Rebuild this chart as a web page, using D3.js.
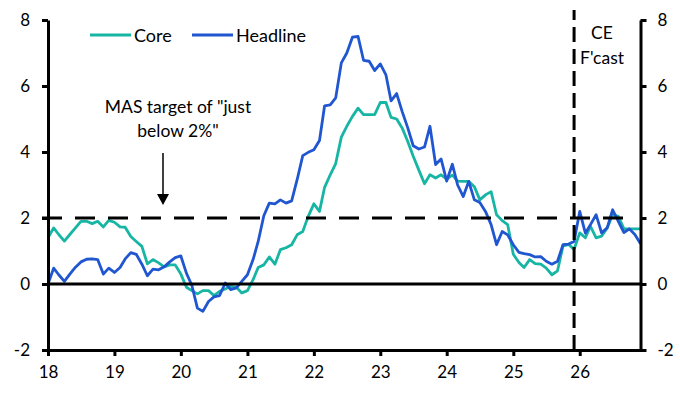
<!DOCTYPE html>
<html>
<head>
<meta charset="utf-8">
<script src="https://cdn.jsdelivr.net/npm/d3@7"></script>
<style>
  body { margin: 0; background: #fff; }
  svg text { font-family: Lato, "Noto Sans", sans-serif; fill: #000; }
</style>
</head>
<body>
<script>
// monthly, Jan 2018 - Dec 2026 (% y/y)
var core = [
  1.4, 1.7, 1.5, 1.3, 1.5, 1.7, 1.9, 1.9, 1.83, 1.9, 1.73, 1.93,
  1.87, 1.73, 1.72, 1.44, 1.29, 1.14, 0.61, 0.74, 0.64, 0.52, 0.58, 0.58,
  0.3, -0.1, -0.2, -0.3, -0.2, -0.2, -0.35, -0.22, -0.15, -0.07, -0.1, -0.27,
  -0.2, 0.13, 0.5, 0.58, 0.82, 0.6, 1.04, 1.1, 1.19, 1.49, 1.59, 2.05,
  2.43, 2.2, 2.93, 3.31, 3.65, 4.45, 4.78, 5.08, 5.33, 5.13, 5.13, 5.13,
  5.5, 5.5, 5.05, 5.0, 4.73, 4.32, 3.87, 3.45, 3.04, 3.31, 3.21, 3.31,
  3.18, 3.3, 3.12, 3.11, 3.11, 2.95, 2.55, 2.7, 2.8, 2.1, 1.92, 1.8,
  0.9, 0.65, 0.5, 0.74, 0.62, 0.6, 0.48, 0.28, 0.4, 1.15, 1.2, 1.05,
  1.55, 1.4, 1.75, 1.4, 1.45, 1.7, 2.1, 2.05, 1.67, 1.67, 1.67, 1.67
]
var headline = [
  0.0, 0.48, 0.28, 0.08, 0.3, 0.51, 0.67, 0.75, 0.76, 0.74, 0.3, 0.48,
  0.35, 0.5, 0.76, 0.95, 0.9, 0.6, 0.25, 0.45, 0.43, 0.52, 0.67, 0.8,
  0.85, 0.32, -0.03, -0.73, -0.83, -0.53, -0.39, -0.35, 0.03, -0.17, -0.12, 0.08,
  0.28, 0.74, 1.29, 2.07, 2.45, 2.43, 2.55, 2.45, 2.52, 3.16, 3.89, 3.99,
  4.07, 4.35, 5.4, 5.43, 5.64, 6.7, 7.0, 7.48, 7.5, 6.78, 6.75, 6.47,
  6.67, 6.34, 5.55, 5.77, 5.23, 4.73, 4.19, 4.09, 4.15, 4.78, 3.62, 3.79,
  3.12, 3.63, 3.0, 2.65, 3.11, 2.55, 2.47, 2.2, 1.8, 1.19, 1.59, 1.49,
  1.19, 0.96, 0.92, 0.89, 0.82, 0.83, 0.69, 0.6, 0.69, 1.19, 1.21, 1.29,
  2.2, 1.54, 1.8, 2.1, 1.55, 1.7, 2.25, 1.9, 1.56, 1.67, 1.49, 1.22
]
var yearLabels = ['18', '19', '20', '21', '22', '23', '24', '25', '26']
var yTicks = [-2, 0, 2, 4, 6, 8]
var seriesNames = ['Core', 'Headline']
var seriesColors = ['#17b5a4', '#2156d1']
var masTarget = 2
var forecastStart = new Date(2025, 11, 1)

var width = 680, height = 399
var months = d3.timeMonth.range(new Date(2018, 0, 1), new Date(2027, 0, 1))

var x = d3.scaleTime()
          .domain([months[0], months[months.length - 1]])
          .range([48, 640.5])
var y = d3.scaleLinear()
          .domain([-2, 8])
          .range([350, 20])

var svg = d3.select('body')
            .append('svg')
            .attr('width', width)
            .attr('height', height)

var line = d3.line()
             .x(function(d, i){ return x(months[i]) })
             .y(function(d){ return y(d) })

// series
svg.selectAll('path.series')
   .data([core, headline])
   .enter()
   .append('path')
   .attr('class', 'series')
   .attr('d', line)
   .attr('fill', 'none')
   .attr('stroke', function(d, i){ return seriesColors[i] })
   .attr('stroke-width', 2.8)
   .attr('stroke-linejoin', 'round')

// reference lines
svg.append('line')
   .attr('x1', x.range()[0]).attr('x2', x.range()[1])
   .attr('y1', y(0)).attr('y2', y(0))
   .attr('stroke', '#000').attr('stroke-width', 3)

svg.append('line')
   .attr('x1', x.range()[0] - 6).attr('x2', x(new Date(2026, 10, 1)))
   .attr('y1', y(masTarget)).attr('y2', y(masTarget))
   .attr('stroke', '#000').attr('stroke-width', 3)
   .attr('stroke-dasharray', '20,13')

svg.append('line')
   .attr('x1', x(forecastStart)).attr('x2', x(forecastStart))
   .attr('y1', y(-2)).attr('y2', 10)
   .attr('stroke', '#000').attr('stroke-width', 3)
   .attr('stroke-dasharray', '15,7')

// axes
var fontSize = '17px'
function styleAxis(g){
  g.selectAll('path.domain').attr('stroke', '#000').attr('stroke-width', 3)
  g.selectAll('.tick line').attr('stroke', '#000').attr('stroke-width', 3)
  g.selectAll('.tick text').style('font-size', fontSize).style('font-family', 'Lato, sans-serif')
}

var yearTicks = yearLabels.map(function(d){ return new Date(2000 + (+d), 0, 1) })
var plainNum = function(d){ return String(d) }

svg.append('g')
   .attr('transform', 'translate(0,' + y(-2) + ')')
   .call(d3.axisBottom(x).tickValues(yearTicks).tickSize(6).tickSizeOuter(0).tickPadding(10)
           .tickFormat(function(d, i){ return yearLabels[i] }))
   .call(styleAxis)

svg.append('g')
   .attr('transform', 'translate(' + x.range()[0] + ',0)')
   .call(d3.axisLeft(y).tickValues(yTicks).tickSize(6).tickSizeOuter(0).tickPadding(12)
           .tickFormat(plainNum))
   .call(styleAxis)

svg.append('g')
   .attr('transform', 'translate(' + x.range()[1] + ',0)')
   .call(d3.axisRight(y).tickValues(yTicks).tickSize(6).tickSizeOuter(0).tickPadding(11)
           .tickFormat(plainNum))
   .call(styleAxis)

// legend
var legendX = [90, 192]
var legend = svg.selectAll('g.legend')
                .data(seriesNames)
                .enter()
                .append('g')
                .attr('class', 'legend')
                .attr('transform', function(d, i){ return 'translate(' + legendX[i] + ',35)' })
legend.append('line')
      .attr('x1', 0).attr('x2', 41)
      .attr('stroke', function(d, i){ return seriesColors[i] })
      .attr('stroke-width', 3)
legend.append('text')
      .attr('x', 44).attr('y', 6.5)
      .style('font-size', '18px')
      .text(function(d){ return d })

// annotations
var note = svg.append('text')
              .attr('text-anchor', 'middle')
              .style('font-size', '17.5px')
note.append('tspan').attr('x', 178).attr('y', 113).text('MAS target of "just')
note.append('tspan').attr('x', 178).attr('y', 137).text('below 2%"')

var arrowX = 163, arrowTip = y(masTarget) - 13
svg.append('line')
   .attr('x1', arrowX).attr('x2', arrowX)
   .attr('y1', 153).attr('y2', arrowTip - 8)
   .attr('stroke', '#000').attr('stroke-width', 1.5)
svg.append('path')
   .attr('d', 'M' + (arrowX - 6) + ',' + (arrowTip - 11) + 'L' + (arrowX + 6) + ',' + (arrowTip - 11) + 'L' + arrowX + ',' + arrowTip + 'Z')
   .attr('fill', '#000')

var fc = svg.append('text')
            .attr('text-anchor', 'middle')
            .style('font-size', '17.5px')
fc.append('tspan').attr('x', 602).attr('y', 39).text('CE')
fc.append('tspan').attr('x', 602).attr('y', 64).text("F'cast")
</script>
</body>
</html>
